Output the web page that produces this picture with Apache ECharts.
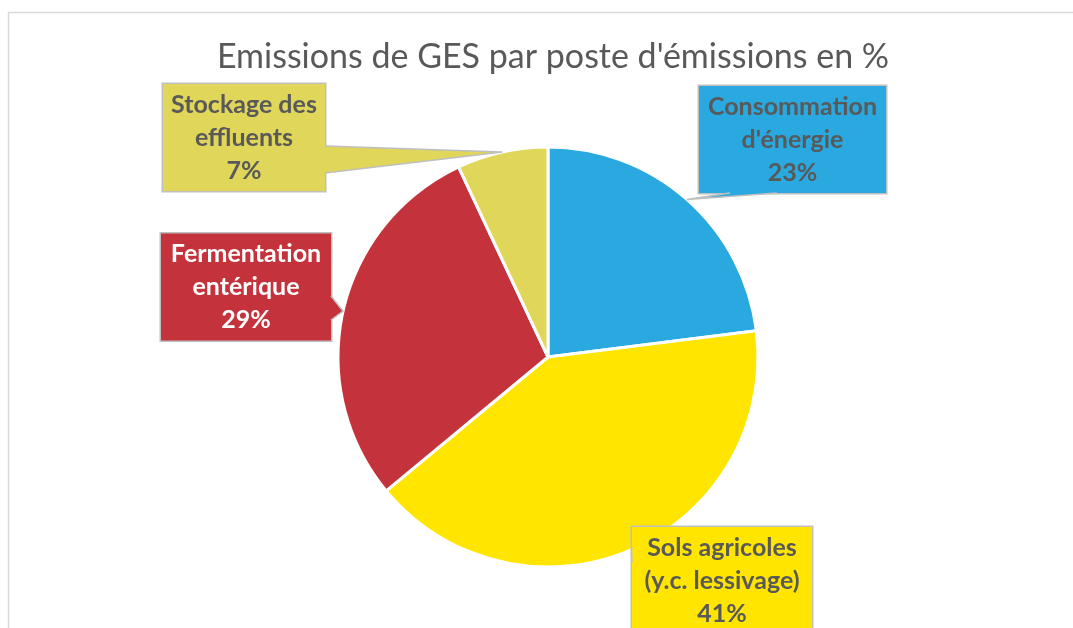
<!DOCTYPE html>
<html>
<head>
<meta charset="utf-8">
<script src="https://cdn.jsdelivr.net/npm/echarts@6/dist/echarts.min.js"></script>
<style>
  html, body { margin: 0; padding: 0; background: #fff; }
  #chart { width: 1073px; height: 628px; }
</style>
</head>
<body>
<div id="chart"></div>
<script>
// postes d'émissions, in drawing order (clockwise from 12 o'clock)
const categories = ["Consommation\nd'énergie", 'Sols agricoles\n(y.c. lessivage)', 'Fermentation\nentérique', 'Stockage des\neffluents'];
const shares = [23, 41, 29, 7];

const sliceColors = ['#29A9E0', '#FFE500', '#C4333C', '#DFD65A'];
const labelColors = ['#595959', '#595959', '#FFFFFF', '#595959'];
// callout boxes: left, top, outer width, outer height
const calloutBoxes = [
  [699, 86, 187, 107],
  [632, 527, 180, 107],
  [161, 234, 170, 106],
  [163, 83, 162, 109]
];
// where the pointer leaves the box: side, from, to (px along that side)
const pointerBases = [
  ['bottom', 31, 78],
  ['left', 20, 35],
  ['right', 62, 86],
  ['right', 63, 90]
];

const chart = echarts.init(document.getElementById('chart'), null, { renderer: 'canvas' });

const FONT = 'Lato, "Open Sans", sans-serif';
const frame = {
  type: 'rect',
  shape: { x: 8.5, y: 12.5, width: 1100, height: 700 },
  style: { fill: 'none', stroke: '#D9D9D9', lineWidth: 1.5 },
  silent: true
};

let option = {
  backgroundColor: '#fff',
  animation: false,
  title: {
    text: "Emissions de GES par poste d'émissions en %",
    left: 548,
    textAlign: 'center',
    top: 35,
    textStyle: { fontFamily: FONT, fontWeight: 'normal', fontSize: 34, color: '#595959' }
  },
  graphic: [frame],
  series: [{
    type: 'pie',
    center: [548, 357],
    radius: 210,
    startAngle: 90,
    clockwise: true,
    avoidLabelOverlap: false,
    itemStyle: { borderColor: '#fff', borderWidth: 3 },
    label: {
      show: true,
      position: 'outside',
      formatter: p => p.name + '\n' + p.value + '%',
      fontFamily: FONT,
      fontWeight: 'bold',
      fontSize: 25,
      lineHeight: 33,
      align: 'center',
      padding: [7, 5, 1, 5],
      borderColor: '#BFBFBF',
      borderWidth: 1.5
    },
    labelLine: { show: false },
    labelLayout: params => {
      const b = calloutBoxes[params.dataIndex];
      return { x: b[0] + b[2] / 2, y: b[1] + b[3] / 2, align: 'center', verticalAlign: 'middle' };
    },
    data: categories.map((name, i) => ({
      name: name,
      value: shares[i],
      itemStyle: { color: sliceColors[i] },
      label: {
        color: labelColors[i],
        backgroundColor: sliceColors[i],
        width: calloutBoxes[i][2] - 10
      }
    }))
  }]
};

chart.setOption(option);

// callout pointers: from the box edge to the slice's mid-angle on the rim
function basePoints(box, base) {
  const [l, t, w, h] = box;
  const [side, a, b] = base;
  if (side === 'bottom') return [[l + a, t + h], [l + b, t + h]];
  if (side === 'top') return [[l + a, t], [l + b, t]];
  if (side === 'left') return [[l, t + a], [l, t + b]];
  return [[l + w, t + a], [l + w, t + b]];
}

const pieData = chart.getModel().getSeriesByIndex(0).getData();
const pointers = [];
categories.forEach((name, i) => {
  const lay = pieData.getItemLayout(i);
  const mid = (lay.startAngle + lay.endAngle) / 2;
  const tip = [lay.cx + lay.r * Math.cos(mid), lay.cy + lay.r * Math.sin(mid)];
  const [p1, p2] = basePoints(calloutBoxes[i], pointerBases[i]);
  pointers.push({
    type: 'polygon',
    z: 100,
    silent: true,
    shape: { points: [p1, tip, p2] },
    style: { fill: sliceColors[i], stroke: null }
  });
  pointers.push({
    type: 'polyline',
    z: 101,
    silent: true,
    shape: { points: [p1, tip, p2] },
    style: { fill: null, stroke: '#BFBFBF', lineWidth: 1.5 }
  });
});

chart.setOption({ graphic: [frame].concat(pointers) });
</script>
</body>
</html>
